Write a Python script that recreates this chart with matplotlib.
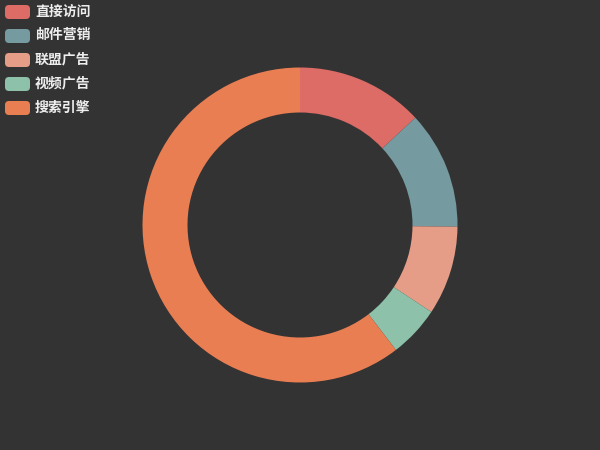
import matplotlib.pyplot as plt
from matplotlib.patches import FancyBboxPatch

plt.rcParams['font.family'] = ['Noto Sans CJK SC', 'DejaVu Sans']

names = ['直接访问', '邮件营销', '联盟广告', '视频广告', '搜索引擎']
values = [335, 310, 234, 135, 1548]
colors = ['#dd6b66', '#759aa0', '#e69d87', '#8dc1a9', '#ea7e53']
bg = '#333333'

fig = plt.figure(figsize=(6, 4.5), dpi=100, facecolor=bg)
ax = fig.add_axes([0, 0, 1, 1])
ax.set_facecolor(bg)

# doughnut, radius 50%-70% of half the short side
ax.pie(values, colors=colors, center=(300, 225), radius=157.5,
       startangle=90, counterclock=False, frame=True,
       wedgeprops=dict(width=45, edgecolor='none'))
ax.set_xlim(0, 600)
ax.set_ylim(0, 450)
ax.set_aspect('equal')
ax.axis('off')

# legend top left
for i, (n, c) in enumerate(zip(names, colors)):
    yc = 450 - (12 + i * 24)
    ax.add_patch(FancyBboxPatch((5, yc - 7), 25, 14,
                                boxstyle='round,pad=0,rounding_size=4',
                                facecolor=c, edgecolor='none'))
    ax.text(35, yc + 0.5, n, color='#eeeeee', fontsize=10, fontweight='bold',
            va='center', ha='left')

fig.savefig('out.png', dpi=100, facecolor=bg)
